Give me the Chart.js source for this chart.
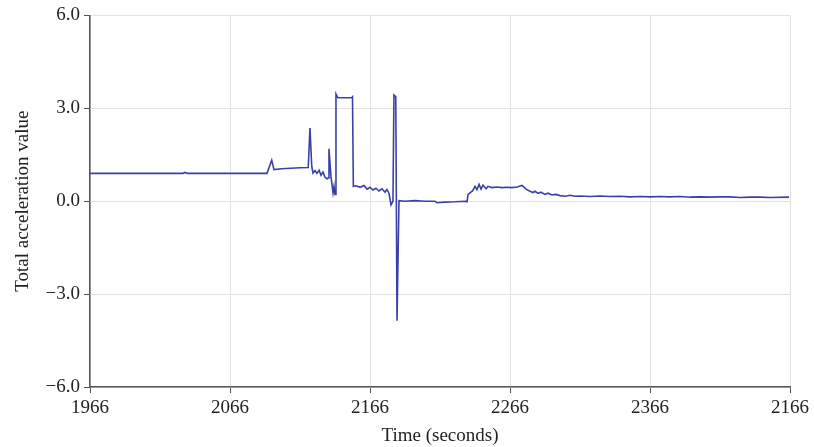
<!DOCTYPE html>
<html lang="en">
<head>
  <meta charset="UTF-8" />
  <title>Total acceleration</title>
  <script src="https://cdn.jsdelivr.net/npm/chart.js"></script>
  <style>
    html, body { margin: 0; padding: 0; background: #fff; }
    #wrap { width: 814px; height: 447px; }
  </style>
</head>
<body>
  <div id="wrap"><canvas id="accChart" width="814" height="447"></canvas></div>

  <script>
    // time (s) and total acceleration
    const times = [
      1966, 2032.4, 2033.9, 2035.3, 2092.4, 2095.8, 2097.4, 2102.9, 2116, 2121.9,
      2123.1, 2124.4, 2125.3, 2126.7, 2128.1, 2129.6, 2131, 2132.4, 2133.9, 2135.3,
      2136, 2136.7, 2138.1, 2139.6, 2140.3, 2141, 2141.7, 2143.1, 2152.9, 2153.5,
      2154.1, 2156, 2158.9, 2161.7, 2163.9, 2166, 2168.1, 2170.3, 2172.4, 2174.6,
      2176.7, 2178.1, 2179.6, 2181, 2182.4, 2183.1, 2184.4, 2185.3, 2186.7, 2191,
      2198, 2205, 2212.4, 2213.9, 2219.6, 2226.7, 2233.9, 2235.3, 2236, 2237.4,
      2239.4, 2241, 2242.4, 2243.9, 2245.3, 2246.7, 2248.9, 2250.3, 2253.1, 2256.7,
      2260.3, 2263.9, 2267.4, 2271, 2274.6, 2277.4, 2280.3, 2282.4, 2283.9, 2286,
      2288.1, 2291, 2293.1, 2296, 2298.9, 2301.7, 2305.3, 2308.9, 2312.4, 2316,
      2323.1, 2330.3, 2337.4, 2344.6, 2351.7, 2358.9, 2366, 2373.1, 2380.3, 2387.4,
      2394.6, 2401.7, 2408.9, 2416, 2423.1, 2430.3, 2437.4, 2444.6, 2451.7, 2465.3
    ];
    const accel = [
      0.90, 0.90, 0.93, 0.90, 0.90, 1.32, 1.02, 1.05, 1.08, 1.09,
      2.36, 1.12, 0.91, 0.99, 0.90, 1.00, 0.84, 0.94, 0.77, 0.72,
      0.75, 1.69, 0.80, 0.27, 0.48, 0.22, 3.46, 3.34, 3.34, 3.37,
      0.48, 0.50, 0.45, 0.51, 0.39, 0.45, 0.36, 0.42, 0.33, 0.40,
      0.29, 0.38, 0.25, -0.12, 0.00, 3.43, 3.38, -3.86, 0.02, 0.00,
      0.02, 0.00, 0.00, -0.05, -0.03, -0.02, 0.00, -0.02, 0.21, 0.27,
      0.34, 0.48, 0.37, 0.54, 0.39, 0.52, 0.40, 0.48, 0.44, 0.46,
      0.44, 0.45, 0.44, 0.46, 0.51, 0.39, 0.32, 0.28, 0.32, 0.25,
      0.29, 0.22, 0.26, 0.20, 0.22, 0.18, 0.16, 0.19, 0.16, 0.17,
      0.15, 0.17, 0.15, 0.16, 0.14, 0.15, 0.14, 0.15, 0.14, 0.15,
      0.13, 0.14, 0.13, 0.14, 0.14, 0.12, 0.13, 0.13, 0.12, 0.13
    ];

    const xTickValues = [1966, 2066, 2166, 2266, 2366, 2466];
    const xTickLabels = ['1966', '2066', '2166', '2266', '2366', '2166'];
    const yTickValues = [-6, -3, 0, 3, 6];

    const serif = "'Liberation Serif', 'DejaVu Serif', serif";
    const points = times.map((t, i) => ({ x: t, y: accel[i] }));

    const ctx = document.getElementById('accChart').getContext('2d');
    new Chart(ctx, {
      type: 'line',
      data: {
        datasets: [{
          data: points,
          borderColor: '#3b40a6',
          borderWidth: 1.6,
          pointRadius: 0,
          tension: 0,
          fill: false
        }]
      },
      options: {
        responsive: false,
        animation: false,
        layout: { padding: { left: 0, right: 24, top: 14, bottom: 0 } },
        plugins: { legend: { display: false }, tooltip: { enabled: false } },
        scales: {
          x: {
            type: 'linear',
            min: 1966,
            max: 2466,
            afterBuildTicks: axis => { axis.ticks = xTickValues.map(v => ({ value: v })); },
            afterFit: axis => { axis.height = 60; },
            border: { color: '#555', width: 1.5 },
            grid: { color: '#e2e2e2', tickColor: '#555', tickLength: 6, lineWidth: 1 },
            ticks: {
              color: '#222',
              font: { family: serif, size: 19 },
              padding: 4,
              maxRotation: 0,
              callback: (v) => xTickLabels[xTickValues.indexOf(v)]
            },
            title: {
              display: true,
              text: 'Time (seconds)',
              color: '#222',
              font: { family: serif, size: 19 },
              padding: { top: 0, bottom: 0 }
            }
          },
          y: {
            min: -6,
            max: 6,
            afterBuildTicks: axis => { axis.ticks = yTickValues.map(v => ({ value: v })); },
            afterFit: axis => { axis.width = 90; },
            border: { color: '#555', width: 1.5 },
            grid: { color: '#e2e2e2', tickColor: '#555', tickLength: 6, lineWidth: 1 },
            ticks: {
              color: '#222',
              font: { family: serif, size: 19 },
              padding: 4,
              callback: (v) => (v < 0 ? '\u2212' : '') + Math.abs(v).toFixed(1)
            },
            title: {
              display: true,
              text: 'Total acceleration value',
              color: '#222',
              font: { family: serif, size: 19 },
              padding: { top: 12, bottom: 0 }
            }
          }
        }
      }
    });
  </script>
</body>
</html>
